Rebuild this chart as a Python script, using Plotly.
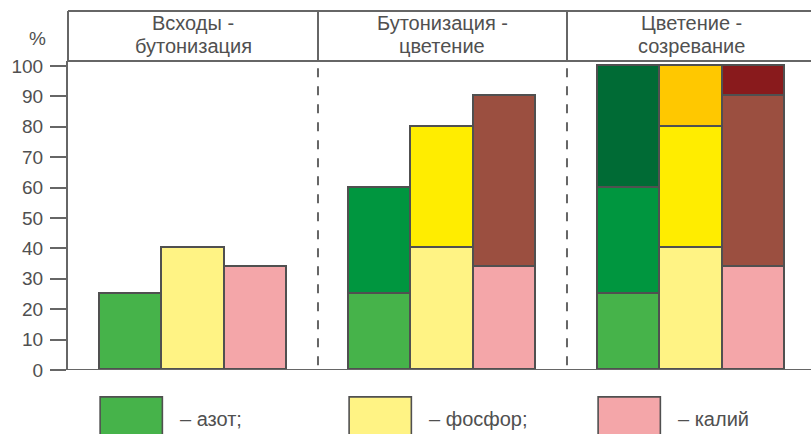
import plotly.graph_objects as go

# Growth stages (column headers, two lines each) and nutrients
stages = [("Всходы -", "бутонизация"), ("Бутонизация -", "цветение"), ("Цветение -", "созревание")]
nutrients = ["азот", "фосфор", "калий"]
legend_labels = ["– азот;", "– фосфор;", "– калий"]

# Uptake added during each stage, % of total (cumulative stacks)
nitrogen = [25, 35, 40]
phosphorus = [40, 40, 20]
potassium = [34, 56, 10]

# Shades per nutrient: first, second, third stage
nitrogen_colors = ["#46b34a", "#00963f", "#006b35"]
phosphorus_colors = ["#fff384", "#ffed00", "#ffc800"]
potassium_colors = ["#f4a6a9", "#9b4f40", "#891a1c"]

y_ticks = [0, 10, 20, 30, 40, 50, 60, 70, 80, 90, 100]

series = [nitrogen, phosphorus, potassium]
palettes = [nitrogen_colors, phosphorus_colors, potassium_colors]

GRAY = "#666666"
EDGE = "#505050"
TEXT = "#505050"
FONT = "Liberation Sans, Arial, sans-serif"
TICK_SIZE = 19
LABEL_SIZE = 20

fig = go.Figure()

# Each stage block of a nutrient shows in its own stage and all later ones
for j, (vals, cols) in enumerate(zip(series, palettes)):
    for k in range(len(stages)):
        xs = [4 * g + j for g in range(k, len(stages))]
        fig.add_trace(go.Bar(
            x=xs,
            y=[vals[k]] * len(xs),
            width=1,
            marker=dict(color=cols[k], line=dict(color=EDGE, width=1.6)),
            name=nutrients[j],
            showlegend=False,
            hoverinfo="skip",
        ))

shapes = []
annotations = []

HEADER_TOP = 1.162
# Header box: top and bottom rules, left border continuing the y axis
shapes.append(dict(type="line", xref="paper", yref="paper", x0=0, x1=1.0,
                   y0=HEADER_TOP, y1=HEADER_TOP, line=dict(color=GRAY, width=2)))
shapes.append(dict(type="line", xref="paper", yref="paper", x0=0, x1=1.0,
                   y0=1.0, y1=1.0, line=dict(color=GRAY, width=2)))
shapes.append(dict(type="line", xref="paper", yref="paper", x0=0, x1=0,
                   y0=1.0, y1=HEADER_TOP, line=dict(color=GRAY, width=2)))

# Stage separators: solid in header, dashed in the plot
for g in range(1, len(stages)):
    xsep = 4 * g - 1
    shapes.append(dict(type="line", xref="x", yref="paper", x0=xsep, x1=xsep,
                       y0=1.0, y1=HEADER_TOP, line=dict(color=GRAY, width=2)))
    shapes.append(dict(type="line", xref="x", yref="paper", x0=xsep, x1=xsep,
                       y0=0.015, y1=1.0, line=dict(color=GRAY, width=2, dash="dash")))

# Stage titles, one annotation per line
for g, lines in enumerate(stages):
    for line_text, ypos in zip(lines, (1.123, 1.050)):
        annotations.append(dict(text=line_text, xref="x", yref="paper", x=4 * g + 1,
                                y=ypos, showarrow=False, xanchor="center", yanchor="middle",
                                font=dict(family=FONT, size=LABEL_SIZE, color=TEXT)))

# Unit label
annotations.append(dict(text="%", xref="paper", yref="paper", x=-0.041, y=1.073,
                        showarrow=False, xanchor="center", yanchor="middle",
                        font=dict(family=FONT, size=TICK_SIZE, color=TEXT)))

# Legend swatches under each stage
for j, (label, cols) in enumerate(zip(legend_labels, palettes)):
    xc = 4 * j
    shapes.append(dict(type="rect", xref="x", yref="paper", x0=xc - 0.5, x1=xc + 0.5,
                       y0=-0.3, y1=-0.087, fillcolor=cols[0],
                       line=dict(color=EDGE, width=1.6)))
    annotations.append(dict(text=label, xref="x", yref="paper", x=xc + 0.75, y=-0.157,
                            showarrow=False, xanchor="left", yanchor="middle",
                            font=dict(family=FONT, size=LABEL_SIZE, color=TEXT)))

fig.update_layout(
    width=811, height=434,
    margin=dict(l=68, r=0, t=61, b=64),
    paper_bgcolor="white", plot_bgcolor="white",
    barmode="stack", bargap=0,
    shapes=shapes, annotations=annotations,
    xaxis=dict(range=[-1.016, 10.92], showgrid=False, zeroline=False,
               showticklabels=False, ticks="", showline=False, fixedrange=True),
    yaxis=dict(range=[0, 101.64], tickvals=y_ticks, ticks="outside", ticklen=16,
               tickwidth=2, tickcolor=GRAY, showline=True, linecolor=GRAY, linewidth=2,
               showgrid=False, zeroline=False, ticklabelstandoff=3,
               tickfont=dict(family=FONT, size=TICK_SIZE, color=TEXT)),
)

# Baseline extending left through the zero tick
fig.add_shape(type="line", xref="paper", yref="y", x0=-0.0215, x1=1.0, y0=0, y1=0,
              line=dict(color=GRAY, width=2))

fig.write_html("out.html")
